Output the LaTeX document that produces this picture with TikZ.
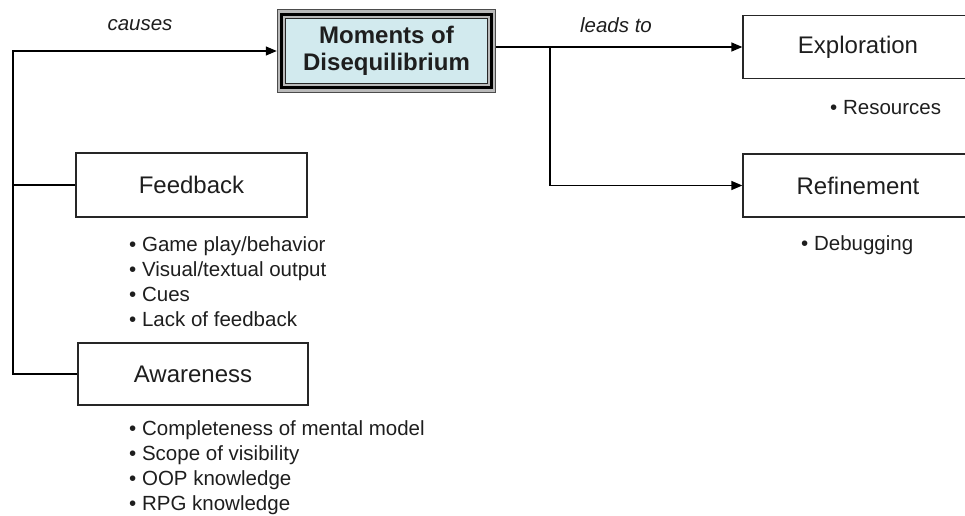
\documentclass[tikz,border=0pt]{standalone}
\usepackage{fontspec}
\setmainfont{Liberation Sans}
\usetikzlibrary{arrows.meta,backgrounds}
\definecolor{modfill}{HTML}{D2EAEE}
\definecolor{txt}{HTML}{1E1E1E}
\begin{document}
\begin{tikzpicture}[x=1pt,y=-1pt,
  box/.style={draw=black!85, line width=1.3pt, minimum height=63pt, minimum width=230pt,
    font=\fontsize{24}{28}\selectfont, text=txt, inner sep=0pt},
  lbl/.style={font=\fontsize{20.5}{25}\selectfont\itshape, text=txt, inner sep=0pt},
  item/.style={font=\fontsize{20.5}{25}\selectfont, text=txt, anchor=base west, inner sep=0pt},
  conn/.style={line width=1.3pt, black},
  arr/.style={conn, -{Triangle[length=11pt,width=9pt]}}]
\useasboundingbox (0,0) rectangle (965,515);
\clip (0,0) rectangle (965,515);

% central node
\node[font=\fontsize{24}{27}\selectfont\bfseries, text=txt, align=center,
      minimum width=219pt, minimum height=83pt, inner sep=0pt] (mod) at (386.5,51) {Moments of\\Disequilibrium};
\begin{scope}[on background layer]
  \fill[gray!55] (mod.north west) rectangle (mod.south east);
  \draw[black!70, line width=1pt] ([shift={(0.5,0.5)}]mod.north west) rectangle ([shift={(-0.5,-0.5)}]mod.south east);
  \draw[black, line width=3pt] ([shift={(5,5)}]mod.north west) rectangle ([shift={(-5,-5)}]mod.south east);
  \filldraw[fill=modfill, draw=black!85, line width=1pt] ([shift={(9,9)}]mod.north west) rectangle ([shift={(-9,-9)}]mod.south east);
\end{scope}

% boxes
\node[box, minimum width=231pt, minimum height=64pt] (fb) at (191.5,185) {Feedback};
\node[box, minimum width=230pt, minimum height=62pt] (aw) at (193,374) {Awareness};
\node[box] (ex) at (858,47) {Exploration};
\node[box] (re) at (858,185.5) {Refinement};

% labels
\node[lbl] (causes) at (140,25) {causes};
\node[lbl] (leads) at (616,25) {leads to};

% connectors
\coordinate (spine) at (13,0);
\coordinate (branch) at (550,0);
\draw[conn] (fb.west) -- (fb.west -| spine);
\draw[arr] (aw.west) -- (aw.west -| spine) |- (mod.west);
\draw[arr] (mod.east |- ex.west) -- (ex.west);
\draw[arr] (ex.west -| branch) |- (re.west);

% bullet lists
\node[item] (f1) at (129,251) {• Game play/behavior};
\node[item] (f2) at (129,276) {• Visual/textual output};
\node[item] (f3) at (129,301) {• Cues};
\node[item] (f4) at (129,326) {• Lack of feedback};

\node[item] (a1) at (129,435) {• Completeness of mental model};
\node[item] (a2) at (129,460) {• Scope of visibility};
\node[item] (a3) at (129,485) {• OOP knowledge};
\node[item] (a4) at (129,510) {• RPG knowledge};

\node[item] (r1) at (830,114) {• Resources};
\node[item] (d1) at (801,250) {• Debugging};
\end{tikzpicture}
\end{document}
